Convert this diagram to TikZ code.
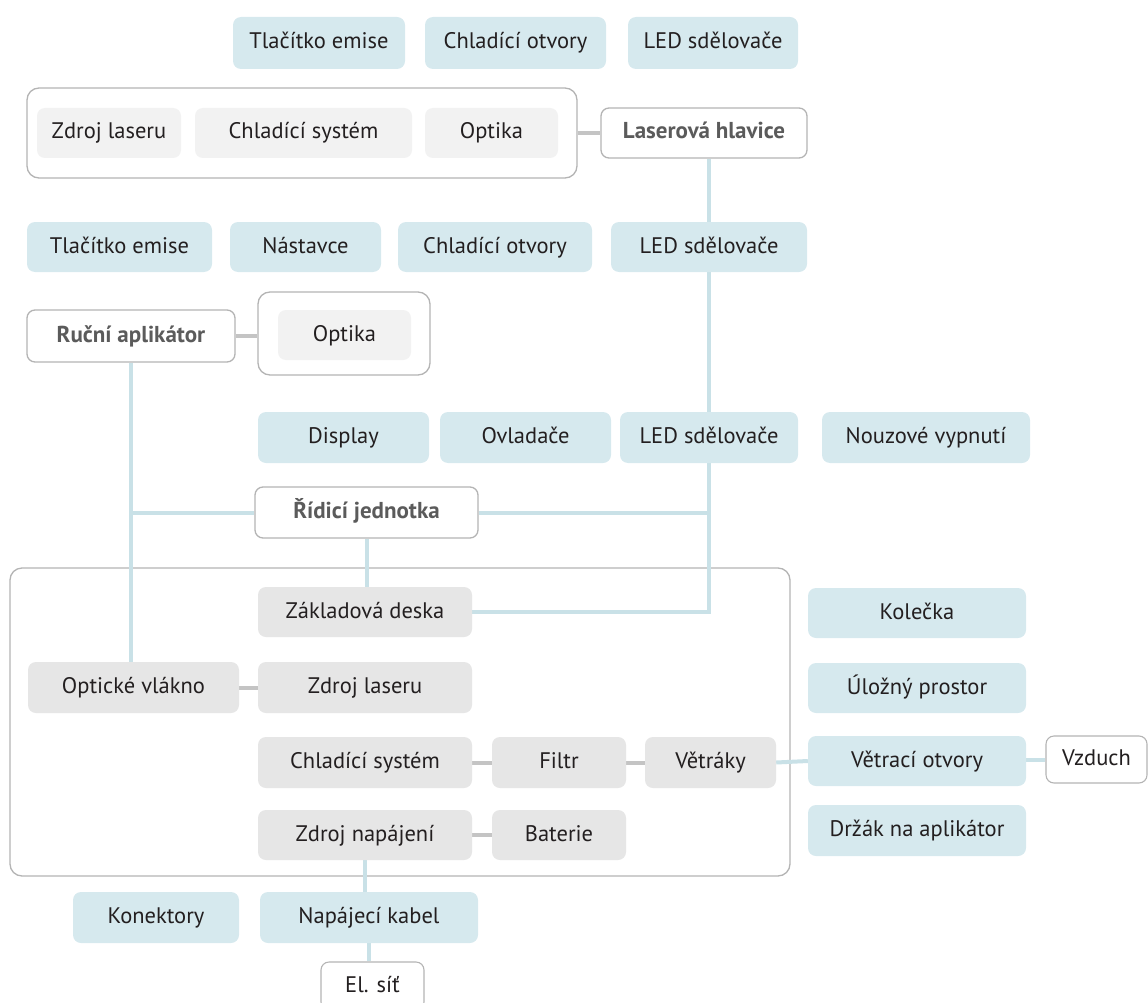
\documentclass[tikz,border=0pt]{standalone}
\usepackage{fontspec}
\setmainfont{PT Sans}
\usetikzlibrary{backgrounds}
\pgfdeclarelayer{lines}
\pgfsetlayers{background,lines,main}
\definecolor{bfill}{HTML}{D6E9EE}
\definecolor{gfill}{HTML}{E6E6E6}
\definecolor{lgfill}{HTML}{F2F2F2}
\definecolor{bordc}{HTML}{B4B4B4}
\definecolor{blinec}{HTML}{C9E1E7}
\definecolor{glinec}{HTML}{C4C4C4}
\definecolor{txtc}{HTML}{231F20}
\definecolor{boldc}{HTML}{5B5B5B}
\begin{document}
\begin{tikzpicture}[x=1pt,y=-1pt,
  base/.style={rounded corners=8pt, minimum height=51pt, inner sep=0pt, text height=16pt, text depth=4pt, font=\fontsize{22.5}{26}\selectfont, text=txtc},
  bluebox/.style={base, fill=bfill},
  greybox/.style={base, fill=gfill},
  lgreybox/.style={base, fill=lgfill},
  mainbox/.style={base, draw=bordc, line width=1.3pt, fill=white, text=boldc, font=\fontsize{23}{26}\selectfont\bfseries},
  endbox/.style={base, draw=bordc, line width=1.1pt, fill=white},
  contbox/.style={draw=bordc, line width=1.3pt, rounded corners=12pt, fill=white, inner sep=0pt},
  bline/.style={draw=blinec, line width=4pt},
  gline/.style={draw=glinec, line width=4pt}]
\useasboundingbox (0,0) rectangle (1148,1003);

% containers
\begin{pgfonlayer}{background}
\node[contbox, minimum width=550pt, minimum height=90pt] (k1) at (302,133) {};
\node[contbox, minimum width=172pt, minimum height=83pt] (k2) at (344,333.5) {};
\node[contbox, minimum width=780pt, minimum height=308pt] (k3) at (400,722) {};
\end{pgfonlayer}

% top row
\node[bluebox, minimum width=172pt, minimum height=52pt] (t1) at (319,43) {Tlačítko emise};
\node[bluebox, minimum width=181pt, minimum height=52pt] (t2) at (515.5,43) {Chladící otvory};
\node[bluebox, minimum width=170pt, minimum height=52pt] (t3) at (713,43) {LED sdělovače};

% laser head
\node[lgreybox, minimum width=144pt, minimum height=50pt] (c1a) at (109,133) {Zdroj laseru};
\node[lgreybox, minimum width=217pt, minimum height=50pt] (c1b) at (303.5,133) {Chladící systém};
\node[lgreybox, minimum width=133pt, minimum height=50pt] (c1c) at (491.5,133) {Optika};
\node[mainbox, minimum width=206pt, minimum height=50pt] (lh) at (704,133) {Laserová hlavice};

% row 2
\node[bluebox, minimum width=185pt, minimum height=50pt] (r2a) at (119.5,247) {Tlačítko emise};
\node[bluebox, minimum width=151pt, minimum height=50pt] (r2b) at (305.5,247) {Nástavce};
\node[bluebox, minimum width=194pt, minimum height=50pt] (r2c) at (495,247) {Chladící otvory};
\node[bluebox, minimum width=196pt, minimum height=50pt] (r2d) at (709,247) {LED sdělovače};

% hand applicator
\node[mainbox, minimum width=208pt, minimum height=52pt] (ra) at (131,336) {Ruční aplikátor};
\node[lgreybox, minimum width=133pt, minimum height=50pt] (c2a) at (344.5,335) {Optika};

% row 3
\node[bluebox, minimum width=171pt, minimum height=51pt] (r3a) at (343.5,437.5) {Display};
\node[bluebox, minimum width=171pt, minimum height=51pt] (r3b) at (525.5,437.5) {Ovladače};
\node[bluebox, minimum width=178pt, minimum height=51pt] (r3c) at (709,437.5) {LED sdělovače};
\node[bluebox, minimum width=208pt, minimum height=51pt] (r3d) at (926,437.5) {Nouzové vypnutí};

% control unit
\node[mainbox, minimum width=223pt, minimum height=51pt] (rj) at (366.5,512.5) {Řídicí jednotka};

% base unit
\node[greybox, minimum width=214pt, minimum height=50pt] (zd) at (365,612) {Základová deska};
\node[greybox, minimum width=211pt, minimum height=51pt] (ov) at (133.5,687.5) {Optické vlákno};
\node[greybox, minimum width=214pt, minimum height=51pt] (zl) at (365,687.5) {Zdroj laseru};
\node[greybox, minimum width=214pt, minimum height=51pt] (cs) at (365,762.5) {Chladící systém};
\node[greybox, minimum width=134pt, minimum height=51pt] (fi) at (559,762.5) {Filtr};
\node[greybox, minimum width=131pt, minimum height=51pt] (ve) at (710.5,762.5) {Větráky};
\node[greybox, minimum width=214pt, minimum height=50pt] (zn) at (365,835) {Zdroj napájení};
\node[greybox, minimum width=134pt, minimum height=50pt] (ba) at (559,835) {Baterie};

% right column
\node[bluebox, minimum width=218pt, minimum height=50pt] (ko) at (917,613) {Kolečka};
\node[bluebox, minimum width=218pt, minimum height=50pt] (up) at (917,688) {Úložný prostor};
\node[bluebox, minimum width=218pt, minimum height=50pt] (vo) at (917,761) {Větrací otvory};
\node[bluebox, minimum width=218pt, minimum height=51pt] (dr) at (917,830.5) {Držák na aplikátor};
\node[endbox, minimum width=101pt, minimum height=47pt] (vz) at (1096.5,759.5) {Vzduch};

% bottom
\node[bluebox, minimum width=166pt, minimum height=51pt] (kn) at (156,917.5) {Konektory};
\node[bluebox, minimum width=218pt, minimum height=51pt] (nk) at (369,917.5) {Napájecí kabel};
\node[endbox, minimum width=103pt, minimum height=48pt] (el) at (372.5,986) {El. síť};

\begin{pgfonlayer}{lines}
  \draw[gline] (k1.east) -- (lh.west);
  \draw[bline] (lh.south -| r2d.north) -- (r2d.north);
  \draw[bline] (r2d.south) -- (r3c.north);
  \draw[gline] (ra.east) -- (ra.east -| k2.west);
  \draw[bline] (ra.south) -- (ra.south |- ov.north);
  \draw[bline] (rj.west) -- (rj.west -| ra.south);
  \draw[bline] (rj.east) -- (rj.east -| r3c.south);
  \draw[bline] (r3c.south) |- (zd.east);
  \draw[bline] (rj.south) -- (rj.south |- zd.north);
  \draw[gline] (ov.east) -- (zl.west);
  \draw[gline] (cs.east) -- (fi.west);
  \draw[gline] (fi.east) -- (ve.west);
  \draw[gline] (zn.east) -- (ba.west);
  \draw[bline] (ve.east) -- (vo.west);
  \draw[bline] (vo.east |- vz.west) -- (vz.west);
  \draw[bline] (nk.north -| zn.south) -- (zn.south);
  \draw[bline] (el.north -| nk.south) -- (nk.south);
\end{pgfonlayer}
\end{tikzpicture}
\end{document}
